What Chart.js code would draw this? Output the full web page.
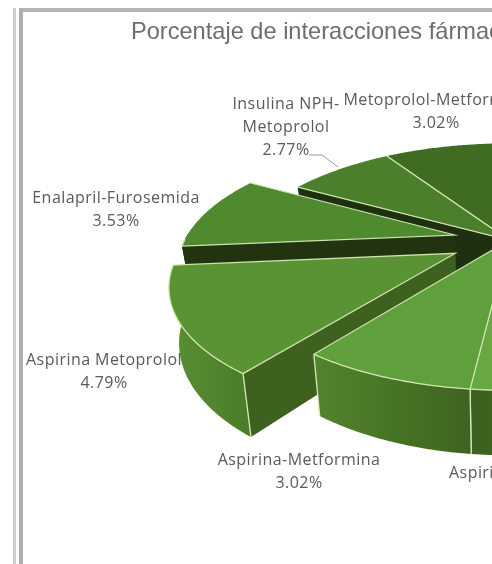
<!DOCTYPE html>
<html>
<head>
<meta charset="utf-8">
<style>
  html,body{ margin:0; padding:0; background:#fff; width:492px; height:564px; overflow:hidden; }
  .frame{ position:absolute; left:13px; top:8px; width:600px; height:700px; border-left:3px solid #cfcfcf; }
  .frame-in{ position:absolute; left:3px; top:0; width:600px; height:700px; border-left:4px solid #aeaeae; border-top:4px solid #b4b4b4; }
  canvas{ position:absolute; left:0; top:0; display:block; }
</style>
</head>
<body>
<div class="frame"><div class="frame-in"></div></div>
<canvas id="pie3d" width="738" height="564"></canvas>
<script src="https://cdn.jsdelivr.net/npm/chart.js@4"></script>
<script>
const categories = ["Aspirina-Metformina","Aspirina Metoprolol","Enalapril-Furosemida","Insulina NPH-Metoprolol","Metoprolol-Metformina","","Aspirina"];
const seriesValues = [3.02,4.79,3.53,2.77,3.02,9.47,9.4];
const sliceOffsets = [0,60,56,0,0,0,0];
const topColors = ["#5f9f3c","#5a9334","#4f8a2e","#4b7f2b","#3f6b22","#3f6b22","#68a843"];
const wallColors = ["#467426","#3f6120","#22330f","#1f3010","#2c4716","#2c4716","#3f6520"];
const rimColors = [["#52842c","#3e6420"],["#5a8f33","#4c7e2a"],["#22330f","#22330f"],["#3d6820","#3d6820"],["#2c4716","#2c4716"],["#2c4716","#2c4716"],["#3c6120","#4c7e2a"]];

// text anchors: [x, y of first line, align, lines]
const labelBoxes = [
  [299,460,"center",["Aspirina-Metformina","3.02%"]],
  [104,360,"center",["Aspirina Metoprolol","4.79%"]],
  [116,198,"center",["Enalapril-Furosemida","3.53%"]],
  [286,104,"center",["Insulina NPH-","Metoprolol","2.77%"]],
  [436,100,"center",["Metoprolol-Metformina","3.02%"]],
  [449,473,"left",["Aspirina"]]
];

const SHIFT_X = 140, TILT = 0.436, PERSP = 1250, DEPTH = 51;

function project(c, X, Z, h){
  const s = 1/(1 - Z/PERSP);
  return [c.x + X*s*(1 - 0.03*h), c.y + Z*TILT*s + h*DEPTH*s];
}

function poly(ctx, pts){
  ctx.beginPath();
  pts.forEach((p,i) => i ? ctx.lineTo(p[0],p[1]) : ctx.moveTo(p[0],p[1]));
  ctx.closePath();
}

function line(ctx, pts, color, w){
  ctx.beginPath();
  pts.forEach((p,i) => i ? ctx.lineTo(p[0],p[1]) : ctx.moveTo(p[0],p[1]));
  ctx.strokeStyle = color;
  ctx.lineWidth = w;
  ctx.stroke();
}

function signedArea(pts){
  let a = 0;
  pts.forEach((p,i) => { const q = pts[(i+1)%pts.length]; a += p[0]*q[1] - q[0]*p[1]; });
  return a;
}

function drawSlice(ctx, arc, i, arcs){
  const {x, y, startAngle, endAngle, outerRadius} = arc.getProps(["x","y","startAngle","endAngle","outerRadius"]);
  const mid = (startAngle + endAngle)/2;
  const off = arc.options.offset || 0;
  const ox = Math.cos(mid)*off, oz = Math.sin(mid)*off;
  const c = {x:x + SHIFT_X, y:y};
  const at = (a, r, h) => project(c, ox + Math.cos(a)*r, oz + Math.sin(a)*r, h);
  const n = arcs.length;

  // radial faces: turned to the viewer, and with a gap next to them
  [[startAngle,(i+n-1)%n,1],[endAngle,(i+1)%n,-1]].forEach(([a,other,sign]) => {
    if((arcs[other].options.offset || 0) === off) return;
    const q = [at(a,0,0), at(a,outerRadius,0), at(a,outerRadius,1), at(a,0,1)];
    if(signedArea(q)*sign < 0){
      poly(ctx,q);
      ctx.fillStyle = wallColors[i];
      ctx.fill();
    }
  });

  // outer rim, near half only
  const steps = 60, rimTop = [], rimBottom = [];
  for(let k=0;k<=steps;k++){
    const a = startAngle + (endAngle-startAngle)*k/steps;
    if(Math.sin(a) > -0.02){
      rimTop.push(at(a,outerRadius,0));
      rimBottom.push(at(a,outerRadius,1));
    }
  }
  if(rimTop.length > 1){
    const xs = rimTop.map(p => p[0]);
    const g = ctx.createLinearGradient(Math.min(...xs),0,Math.max(...xs),0);
    g.addColorStop(0, rimColors[i][0]);
    g.addColorStop(1, rimColors[i][1]);
    poly(ctx, rimTop.concat(rimBottom.slice().reverse()));
    ctx.fillStyle = g;
    ctx.fill();
  }

  // top face
  const rim = [];
  for(let k=0;k<=steps;k++) rim.push(at(startAngle + (endAngle-startAngle)*k/steps, outerRadius, 0));
  poly(ctx, [at(mid,0,0)].concat(rim));
  ctx.fillStyle = arc.options.backgroundColor;
  ctx.fill();

  // light edges
  line(ctx, [rim[0], at(mid,0,0), rim[steps]], "#cfe2ae", 1.2);
  const nearRim = rim.filter((p,k) => Math.sin(startAngle + (endAngle-startAngle)*k/steps) > 0.03);
  if(nearRim.length > 1) line(ctx, nearRim, "#d3e5b4", 1.3);
  [startAngle, endAngle].forEach(a => {
    if(Math.sin(a) > 0.1 && Math.cos(a) < 0.5) line(ctx, [at(a,outerRadius,0), at(a,outerRadius,1)], "#d6e8b8", 1.3);
  });
}

const extrudedPie = {
  id:"extrudedPie",
  beforeDatasetsDraw(chart){
    // captions sit under the slices
    const ctx = chart.ctx;
    ctx.save();
    ctx.font = "16px 'Open Sans'";
    ctx.letterSpacing = "0.45px";
    ctx.fillStyle = "#5a5a5a";
    ctx.textBaseline = "middle";
    labelBoxes.forEach(b => {
      ctx.textAlign = b[2];
      b[3].forEach((t,n) => ctx.fillText(t, b[0], b[1] + n*23.3));
    });
    line(ctx, [[309,155],[322,155],[338,167]], "#9a9a9a", 1);
    ctx.restore();
  },
  beforeDatasetDraw(chart, args){
    const ctx = chart.ctx;
    const arcs = args.meta.data;
    const depthOf = a => {
      const p = a.getProps(["startAngle","endAngle"]);
      const m = (p.startAngle + p.endAngle)/2;
      return Math.sin(m)*(a.options.offset + a.outerRadius*0.6);
    };
    ctx.save();
    arcs.map((a,i) => [a,i]).sort((p,q) => depthOf(p[0]) - depthOf(q[0])).forEach(p => drawSlice(ctx,p[0],p[1],arcs));
    ctx.restore();
    return false;
  }
};

new Chart(document.getElementById("pie3d"), {
  type:"pie",
  data:{
    labels:categories,
    datasets:[{ data:seriesValues, backgroundColor:topColors, offset:sliceOffsets, borderWidth:0 }]
  },
  options:{
    responsive:false,
    animation:false,
    radius:270,
    rotation:186.5,
    layout:{ padding:{ bottom:130 } },
    plugins:{
      legend:{ display:false },
      tooltip:{ enabled:false },
      title:{
        display:true,
        text:"Porcentaje de interacciones fármaco-fármaco",
        color:"#6e6e6e",
        font:{ family:"'Liberation Sans'", size:23.6, weight:"normal" },
        padding:{ top:18, bottom:0 }
      }
    }
  },
  plugins:[extrudedPie]
});
</script>
</body>
</html>
